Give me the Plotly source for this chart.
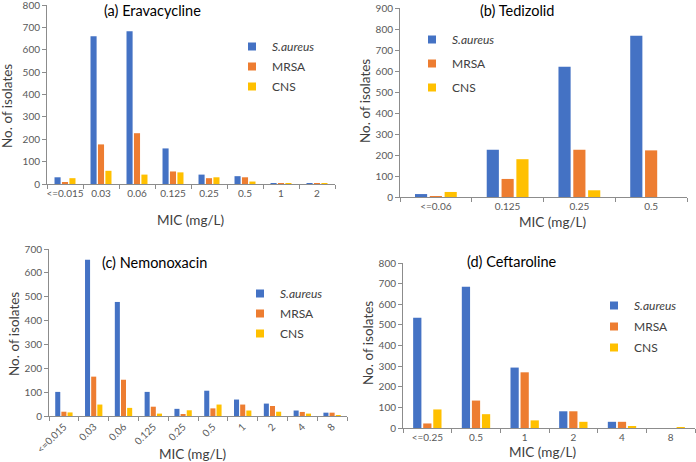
import plotly.graph_objects as go

# ---------------- data ----------------
cats_a = ["<=0.015", "0.03", "0.06", "0.125", "0.25", "0.5", "1", "2"]
sa_a = [30, 660, 683, 159, 42, 35, 3, 2]
mrsa_a = [8, 177, 227, 56, 26, 30, 3, 2]
cns_a = [26, 59, 42, 52, 30, 11, 2, 1]

cats_b = ["<=0.06", "0.125", "0.25", "0.5"]
sa_b = [14, 225, 620, 768]
mrsa_b = [2, 86, 225, 222]
cns_b = [24, 180, 32, 0]

cats_c = ["<=0.015", "0.03", "0.06", "0.125", "0.25", "0.5", "1", "2", "4", "8"]
sa_c = [101, 655, 478, 101, 30, 106, 69, 52, 23, 14]
mrsa_c = [18, 165, 152, 39, 6, 32, 48, 42, 17, 14]
cns_c = [15, 48, 34, 10, 24, 48, 23, 18, 10, 2]

cats_d = ["<=0.25", "0.5", "1", "2", "4", "8"]
sa_d = [535, 685, 293, 81, 30, 0]
mrsa_d = [22, 133, 270, 81, 30, 0]
cns_d = [90, 67, 37, 30, 8, 3]

series_names = ["<i>S.aureus</i>", "MRSA", "CNS"]
colors = ["#4472C4", "#ED7D31", "#FFC000"]
x_title = "MIC (mg/L)"
y_title = "No. of isolates"

panels = [
    dict(cats=cats_a, vals=[sa_a, mrsa_a, cns_a], title="(a) Eravacycline", ymax=800),
    dict(cats=cats_b, vals=[sa_b, mrsa_b, cns_b], title="(b) Tedizolid", ymax=900),
    dict(cats=cats_c, vals=[sa_c, mrsa_c, cns_c], title="(c) Nemonoxacin", ymax=700),
    dict(cats=cats_d, vals=[sa_d, mrsa_d, cns_d], title="(d) Ceftaroline", ymax=800),
]

W, H = 696, 462
# plot-area pixel boxes: (left, right, top, bottom)
boxes = [(47, 335, 5, 184), (400, 687, 8, 197), (49, 347, 249, 416), (403, 695, 263, 428)]
legend_pos = [(232, 32), (412, 25), (240, 279), (594, 291)]
legend_gap = [1, 5, 1, 2]
title_pos = [(152, 10), (517, 10), (154, 262), (512, 261)]
xtitle_pos = [(190, 220), (552, 222), (192, 454), (542, 452)]
ytitle_pos = [(7, 106), (365, 101), (14, 334), (368, 343)]

FONT = "Lato"
fig = go.Figure()
for i, p in enumerate(panels):
    sfx = "" if i == 0 else str(i + 1)
    leg = "legend" if i == 0 else f"legend{i + 1}"
    for k in range(3):
        fig.add_trace(go.Bar(
            x=p["cats"], y=p["vals"][k], name=series_names[k],
            marker=dict(color=colors[k], line=dict(width=0)),
            xaxis="x" + sfx, yaxis="y" + sfx, legend=leg,
            legendgroup=f"g{i}{k}", showlegend=False,
        ))
        # legend entry with a small square swatch (as in the original)
        fig.add_trace(go.Scatter(
            x=[None], y=[None], mode="markers", name=series_names[k],
            marker=dict(symbol="square", size=8, color=colors[k]),
            xaxis="x" + sfx, yaxis="y" + sfx, legend=leg,
            legendgroup=f"g{i}{k}", showlegend=True, hoverinfo="skip",
        ))
    l, r, t, b = boxes[i]
    fig.layout["xaxis" + sfx] = dict(
        domain=[l / W, r / W], anchor="y" + sfx, type="category", automargin=False,
        showline=True, linecolor="#8c8c8c", linewidth=1,
        ticks="outside", tickson="boundaries", ticklen=4, tickcolor="#8c8c8c",
        tickfont=dict(family=FONT, size=10, color="#595959"),
        tickangle=-45 if i == 2 else 0,
        showgrid=False, zeroline=False, fixedrange=True,
    )
    fig.layout["yaxis" + sfx] = dict(
        domain=[1 - b / H, 1 - t / H], anchor="x" + sfx, automargin=False,
        range=[0, p["ymax"]], dtick=100, ticklabeloverflow="allow",
        showline=True, linecolor="#8c8c8c", linewidth=1,
        ticks="outside", ticklen=4, tickcolor="#8c8c8c",
        tickfont=dict(family=FONT, size=10, color="#595959"),
        showgrid=False, zeroline=False, fixedrange=True,
    )
    lx, ly = legend_pos[i]
    fig.layout[leg] = dict(
        x=lx / W, y=1 - ly / H, xanchor="left", yanchor="top",
        bgcolor="rgba(0,0,0,0)", tracegroupgap=legend_gap[i],
        font=dict(family=FONT, size=12, color="#404040"),
    )
    tx, ty = title_pos[i]
    fig.add_annotation(
        text=p["title"], x=tx / W, y=1 - ty / H, xref="paper", yref="paper",
        xanchor="center", yanchor="middle", showarrow=False,
        font=dict(family=FONT, size=14.5, color="#000000"),
    )
    ax_, ay_ = xtitle_pos[i]
    fig.add_annotation(
        text=x_title, x=ax_ / W, y=1 - ay_ / H, xref="paper", yref="paper",
        xanchor="center", yanchor="middle", showarrow=False,
        font=dict(family=FONT, size=13.5, color="#404040"),
    )
    bx_, by_ = ytitle_pos[i]
    fig.add_annotation(
        text=y_title, x=bx_ / W, y=1 - by_ / H, xref="paper", yref="paper",
        xanchor="center", yanchor="middle", showarrow=False, textangle=-90,
        font=dict(family=FONT, size=13.5, color="#404040"),
    )

fig.update_layout(
    width=W, height=H, margin=dict(l=0, r=0, t=0, b=0),
    barmode="group", bargap=0.38, bargroupgap=0.18,
    plot_bgcolor="white", paper_bgcolor="white",
    font=dict(family=FONT),
)
fig.write_html("out.html", config={"displayModeBar": False},
               post_script="document.body.style.margin='0';")
